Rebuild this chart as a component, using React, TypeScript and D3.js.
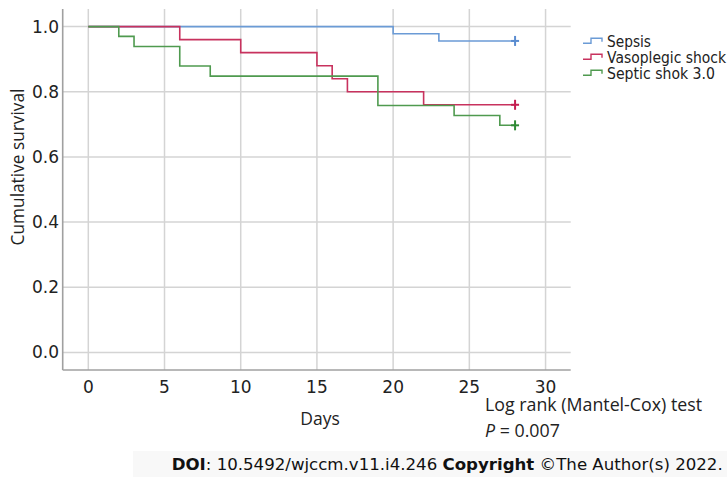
import React from "react";
import * as d3 from "d3";

const seriesNames = ["Sepsis", "Vasoplegic shock", "Septic shok 3.0"];
const seriesColors = ["#6b9bd6", "#c8325e", "#4f9a4f"];
const censorColors = ["#5a8cd0", "#c41e50", "#2f8a35"];
// step times (days) and survival after each step
const sepsisTimes = [0, 20, 23];
const sepsisSurv = [1.0, 0.978, 0.956];
const vasoTimes = [0, 6, 10, 15, 16, 17, 22];
const vasoSurv = [1.0, 0.96, 0.92, 0.88, 0.84, 0.8, 0.76];
const septicTimes = [0, 2, 3, 6, 8, 19, 24, 27];
const septicSurv = [1.0, 0.97, 0.939, 0.879, 0.848, 0.758, 0.727, 0.697];
const censorTimes = [28, 28, 28];
const xTicks = [0, 5, 10, 15, 20, 25, 30];
const yTicks = [0.0, 0.2, 0.4, 0.6, 0.8, 1.0];
const legendWidths = [44, 119, 108];

const W = 727;
const H = 477;
const L = 62.7, R = 570.7, T = 9, B = 370;

export default function App() {
  const x = d3.scaleLinear().domain([-1.68, 31.65]).range([L, R]);
  const y = d3.scaleLinear().domain([-0.054, 1.054]).range([B, T]);
  const data = [
    { t: sepsisTimes, s: sepsisSurv },
    { t: vasoTimes, s: vasoSurv },
    { t: septicTimes, s: septicSurv },
  ];
  const line = d3
    .line<[number, number]>()
    .x((d) => x(d[0]))
    .y((d) => y(d[1]))
    .curve(d3.curveStepAfter);

  const grid = "#d4d4d4";
  const axisC = "#a0a0a0";
  const tickFont = "DejaVu Sans";
  const labelFont = "Open Sans";

  return (
    <svg width={W} height={H} style={{ position: "absolute", left: 0, top: 0, background: "#fff" }}>
      <rect x={133} y={451} width={W - 133} height={H - 451} fill="#f8f8f8" />
      {/* gridlines */}
      {xTicks.map((t) => (
        <line key={"gx" + t} x1={x(t)} x2={x(t)} y1={T} y2={B} stroke={grid} strokeWidth={1.5} />
      ))}
      {yTicks.map((t) => (
        <line key={"gy" + t} x1={L} x2={R} y1={y(t)} y2={y(t)} stroke={grid} strokeWidth={1.5} />
      ))}
      {/* axes */}
      <line x1={L} x2={L} y1={T} y2={B} stroke={axisC} strokeWidth={1.6} />
      <line x1={L} x2={R} y1={B} y2={B} stroke={axisC} strokeWidth={1.6} />
      {yTicks.map((t) => (
        <text key={"ty" + t} x={59} y={y(t) + 6} textAnchor="end" fontFamily={tickFont} fontSize={17} fill="#222">
          {t.toFixed(1)}
        </text>
      ))}
      {xTicks.map((t) => (
        <text key={"tx" + t} x={x(t)} y={392.5} textAnchor="middle" fontFamily={tickFont} fontSize={17} fill="#222">
          {t}
        </text>
      ))}
      {/* curves */}
      {data.map((d, i) => {
        const pts: [number, number][] = d.t.map((tt, j) => [tt, d.s[j]] as [number, number]);
        pts.push([censorTimes[i], d.s[d.s.length - 1]]);
        return (
          <path key={"c" + i} d={line(pts) || ""} fill="none" stroke={seriesColors[i]} strokeWidth={1.6} />
        );
      })}
      {/* censor marks */}
      {data.map((d, i) => {
        const cx = x(censorTimes[i]);
        const cy = y(d.s[d.s.length - 1]);
        return (
          <g key={"m" + i} stroke={censorColors[i]} strokeWidth={2}>
            <line x1={cx} x2={cx} y1={cy - 5} y2={cy + 5} />
            <line x1={cx - 4} x2={cx + 4} y1={cy} y2={cy} />
          </g>
        );
      })}
      {/* legend */}
      {seriesNames.map((n, i) => {
        const by = 46.7 + i * 16;
        const lo = by - 3.5, hi = by - 8.5;
        return (
          <g key={"l" + i}>
            <path
              d={`M583,${lo} H591 V${hi} H602 V${by - 5}`}
              fill="none"
              stroke={seriesColors[i]}
              strokeWidth={1.4}
            />
            <text x={607} y={by} fontFamily={tickFont} fontSize={15.5} fill="#222" textLength={legendWidths[i]} lengthAdjust="spacingAndGlyphs">
              {n}
            </text>
          </g>
        );
      })}
      {/* axis titles */}
      <text
        transform={`translate(24,167) rotate(-90)`}
        textAnchor="middle"
        fontFamily={labelFont}
        fontSize={17.3}
        fill="#222"
      >
        Cumulative survival
      </text>
      <text x={320} y={425} textAnchor="middle" fontFamily={labelFont} fontSize={17.5} fill="#222">
        Days
      </text>
      <text x={485} y={410.7} fontFamily={labelFont} fontSize={17.8} fill="#222">
        Log rank (Mantel-Cox) test
      </text>
      <text x={485} y={437} fontFamily={labelFont} fontSize={17.8} fill="#222">
        <tspan fontStyle="italic">P</tspan> = 0.007
      </text>
      <text x={171.7} y={469.5} fontFamily="DejaVu Sans" fontSize={15} fill="#111" textLength={551} lengthAdjust="spacingAndGlyphs">
        <tspan fontWeight="bold">DOI</tspan>: 10.5492/wjccm.v11.i4.246 <tspan fontWeight="bold">Copyright</tspan> ©The Author(s) 2022.
      </text>
    </svg>
  );
}
